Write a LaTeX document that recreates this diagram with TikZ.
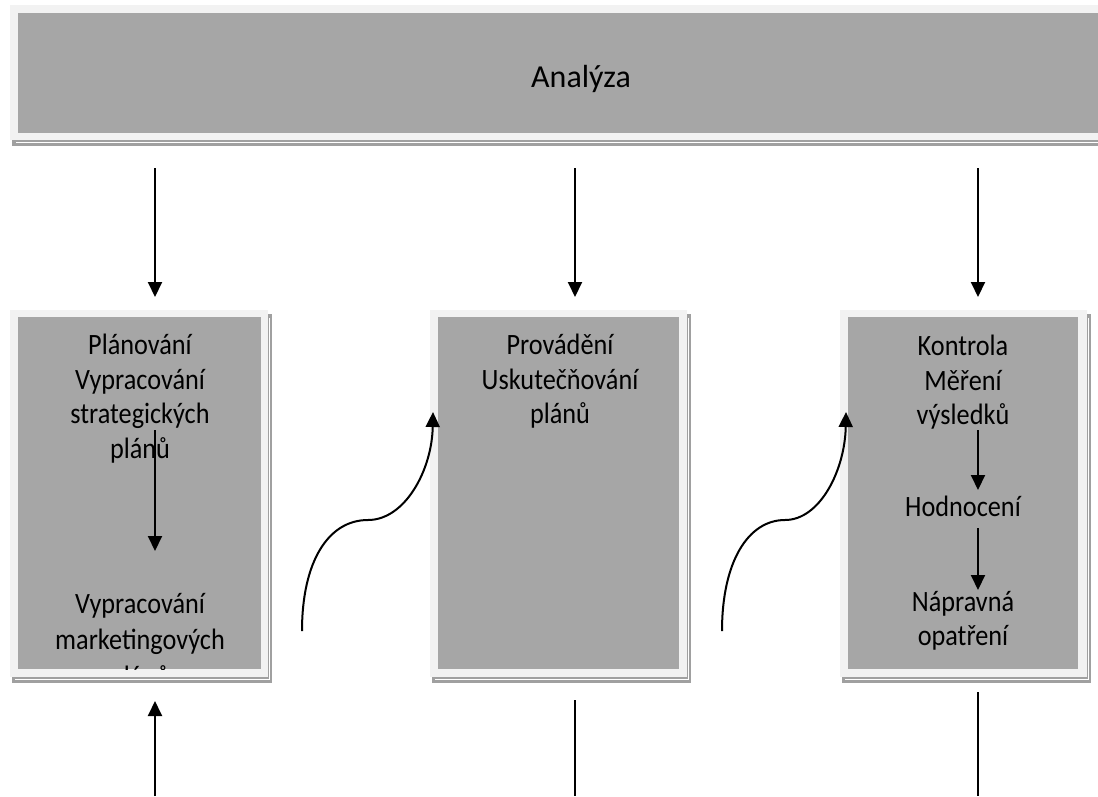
\documentclass[tikz,border=0pt]{standalone}
\usepackage{fontspec}
\setmainfont{Carlito}
\newfontfamily\lblfont{Carlito}[FakeStretch=0.89]
\usetikzlibrary{arrows.meta}
\definecolor{framecol}{HTML}{F2F2F2}
\definecolor{boxgray}{HTML}{A6A6A6}
\definecolor{shadowgray}{HTML}{A0A0A0}
\begin{document}
\begin{tikzpicture}[x=1pt,y=-1pt,
  arr/.style={line width=2pt, -{Triangle[length=15pt,width=14pt]}},
  plainline/.style={line width=2pt},
  ibox/.style={fill=boxgray, draw=none, inner sep=0pt, outer sep=0pt, anchor=north west},
  lbl/.style={font=\lblfont\fontsize{29.5}{34.5}\selectfont, align=center, inner sep=0pt, text=black},
  lblwide/.style={font=\lblfont\fontsize{29.5}{36.5}\selectfont, align=center, inner sep=0pt, text=black},
  toplbl/.style={font=\fontsize{32}{36}\selectfont, inner sep=0pt, text=black}]
\clip (0,0) rectangle (1098,796);
\fill[white] (0,0) rectangle (1098,796);
% ---------- top box ----------
\fill[shadowgray] (12,9) rectangle (1110,146);
\draw[white, line width=0.8pt] (16,142) -- (1110,142);
\fill[framecol] (10,5) rectangle (1110,140);
\node[ibox, minimum width=1092pt, minimum height=120pt] (top) at (18,13) {};
\node[toplbl, anchor=base] (ana) at (581,87) {Analýza};
% ---------- box 1 ----------
\fill[shadowgray] (12,314) rectangle (272,683);
\draw[white, line width=0.8pt] (15,679.5) -- (269.5,679.5) -- (269.5,318);
\fill[framecol] (10,310) rectangle (268,677);
\node[ibox, minimum width=243pt, minimum height=352pt] (b1) at (18,317) {};
% ---------- box 2 ----------
\fill[shadowgray] (432,314) rectangle (691,683);
\draw[white, line width=0.8pt] (435,679.5) -- (688.5,679.5) -- (688.5,318);
\fill[framecol] (430,310) rectangle (687,677);
\node[ibox, minimum width=241pt, minimum height=352pt] (b2) at (438,317) {};
% ---------- box 3 ----------
\fill[shadowgray] (842,314) rectangle (1091,683);
\draw[white, line width=0.8pt] (845,679.5) -- (1088.5,679.5) -- (1088.5,318);
\fill[framecol] (840,310) rectangle (1087,677);
\node[ibox, minimum width=230pt, minimum height=352pt] (b3) at (848,317) {};
% ---------- texts ----------
\begin{scope}
\clip (18,317) rectangle (261,669);
\node[lbl, anchor=north] (plan) at (140,334) {Plánování\\Vypracování\\strategických\\plánů};
\node[lblwide, anchor=north] (mkt) at (140,593) {Vypracování\\marketingových\\plánů};
\end{scope}
\node[lbl, anchor=north] (prov) at (560,334) {Provádění\\Uskutečňování\\plánů};
\node[lbl, anchor=north] (kon) at (963,335) {Kontrola\\Měření\\výsledků};
\node[lbl, anchor=north] (hod) at (963,496) {Hodnocení};
\node[lbl, anchor=north] (nap) at (963,591) {Nápravná\\opatření};
% ---------- coordinates ----------
\coordinate (a1s) at (155,168); \coordinate (a1e) at (155,297);
\coordinate (a2s) at (575,168); \coordinate (a2e) at (575,297);
\coordinate (a3s) at (978,168); \coordinate (a3e) at (978,297);
\coordinate (u1s) at (155,796); \coordinate (u1e) at (155,701);
\coordinate (l2s) at (575,700); \coordinate (l2e) at (575,796);
\coordinate (l3s) at (978,692); \coordinate (l3e) at (978,796);
\coordinate (i1s) at (155,430); \coordinate (i1e) at (155,551);
\coordinate (k1s) at (978,430); \coordinate (k1e) at (978,490);
\coordinate (k2s) at (978,528); \coordinate (k2e) at (978,590);
\coordinate (c1s) at (302,631); \coordinate (c1m) at (368,520); \coordinate (c1e) at (433,412);
\coordinate (c2s) at (722,631); \coordinate (c2m) at (785,520); \coordinate (c2e) at (846,412);
% ---------- arrows ----------
\draw[arr] (a1s) -- (a1e);
\draw[arr] (a2s) -- (a2e);
\draw[arr] (a3s) -- (a3e);
\draw[arr] (u1s) -- (u1e);
\draw[plainline] (l2s) -- (l2e);
\draw[plainline] (l3s) -- (l3e);
\draw[arr] (i1s) -- (i1e);
\draw[arr] (k1s) -- (k1e);
\draw[arr] (k2s) -- (k2e);
\draw[arr] (c1s) .. controls (302,562) and (328,520) .. (c1m) .. controls (405,520) and (432,470) .. (c1e);
\draw[arr] (c2s) .. controls (722,562) and (748,520) .. (c2m) .. controls (820,520) and (845,470) .. (c2e);
\end{tikzpicture}
\end{document}
